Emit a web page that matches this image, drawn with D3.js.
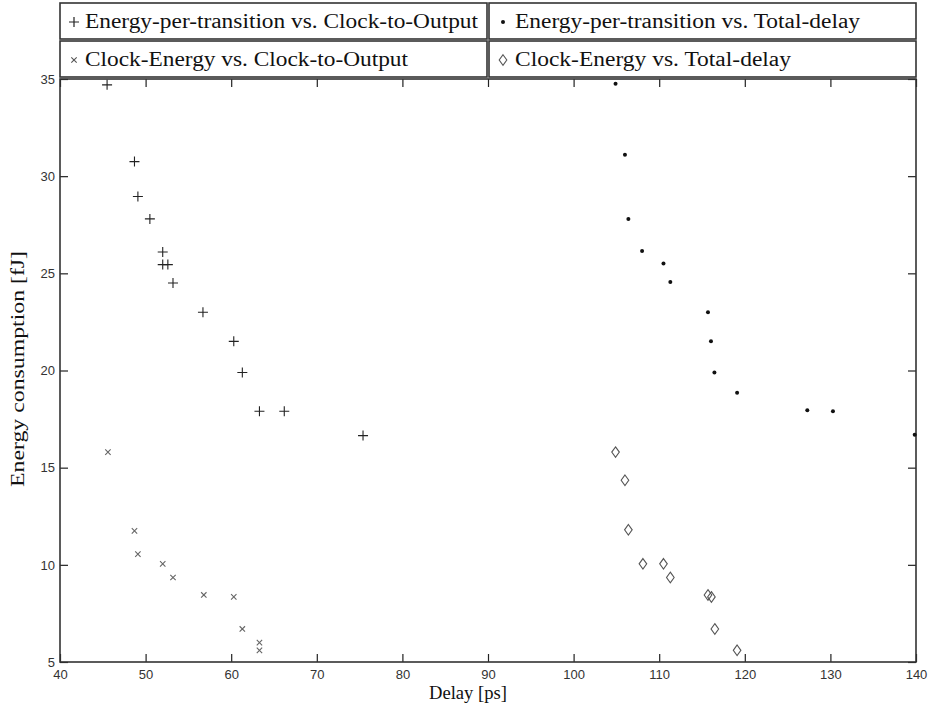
<!DOCTYPE html>
<html>
<head>
<meta charset="utf-8">
<script src="https://cdn.jsdelivr.net/npm/d3@7"></script>
<style>
  body { margin: 0; background: #fff; }
  .tick text { font-family: "Liberation Sans", Arial, sans-serif; font-size: 13px; fill: #333; }
  .legend text { font-family: "Liberation Serif", "Times New Roman", serif; font-size: 20px; fill: #111; }
  .label { font-family: "Liberation Serif", "Times New Roman", serif; font-size: 19px; fill: #111; }
</style>
</head>
<body>
<svg id="chart"></svg>
<script>
// data
const xTicks = [40, 50, 60, 70, 80, 90, 100, 110, 120, 130, 140];
const yTicks = [5, 10, 15, 20, 25, 30, 35];

const eptClkX = [45.5, 48.7, 49.1, 50.5, 52.0, 52.0, 52.6, 53.2, 56.7, 60.3, 61.3, 63.3, 66.2, 75.4];
const eptClkY = [34.7, 30.75, 28.95, 27.8, 26.1, 25.45, 25.45, 24.5, 23.0, 21.5, 19.9, 17.9, 17.9, 16.65];

const eptTotX = [104.9, 106.0, 106.4, 108.0, 110.5, 111.3, 115.7, 116.05, 116.45, 119.1, 127.3, 130.3, 139.85];
const eptTotY = [34.75, 31.1, 27.8, 26.15, 25.5, 24.55, 23.0, 21.5, 19.9, 18.85, 17.95, 17.9, 16.7];

const ceClkX = [45.6, 48.7, 49.1, 52.0, 53.2, 56.8, 60.3, 61.3, 63.3, 63.3];
const ceClkY = [15.8, 11.75, 10.55, 10.05, 9.35, 8.45, 8.35, 6.7, 6.0, 5.6];

const ceTotX = [104.9, 106.0, 106.4, 108.1, 110.5, 111.3, 115.7, 116.1, 116.5, 119.1];
const ceTotY = [15.8, 14.35, 11.8, 10.05, 10.05, 9.35, 8.45, 8.35, 6.7, 5.6];

const legendLabels = [
  'Energy-per-transition vs. Clock-to-Output',
  'Energy-per-transition vs. Total-delay',
  'Clock-Energy vs. Clock-to-Output',
  'Clock-Energy vs. Total-delay'
];

const drawGraph = () => {
  // dimensions
  const width = 930;
  const height = 706;
  const left = 60, right = 916, top = 79, bottom = 662;

  const svg = d3.select('#chart')
    .attr('width', width)
    .attr('height', height);

  const xScale = d3.scaleLinear().domain([40, 140]).range([left, right]);
  const yScale = d3.scaleLinear().domain([5, 35]).range([bottom, top]);

  // axes, ticks inside on all sides
  const tl = 8;
  svg.append('g')
    .attr('transform', `translate(0, ${bottom})`)
    .call(d3.axisBottom(xScale).tickValues(xTicks).tickSizeInner(-tl).tickSizeOuter(0).tickPadding(8))
    .call(g => g.select('.domain').remove());
  svg.append('g')
    .attr('transform', `translate(0, ${top})`)
    .call(d3.axisTop(xScale).tickValues(xTicks).tickSizeInner(-tl).tickSizeOuter(0).tickFormat(''))
    .call(g => g.select('.domain').remove());
  svg.append('g')
    .attr('transform', `translate(${left}, 0)`)
    .call(d3.axisLeft(yScale).tickValues(yTicks).tickSizeInner(-tl).tickSizeOuter(0).tickPadding(5))
    .call(g => g.select('.domain').remove());
  svg.append('g')
    .attr('transform', `translate(${right}, 0)`)
    .call(d3.axisRight(yScale).tickValues(yTicks).tickSizeInner(-tl).tickSizeOuter(0).tickFormat(''))
    .call(g => g.select('.domain').remove());
  svg.selectAll('.tick line').attr('stroke', '#222').attr('stroke-width', 1.2);

  // box
  svg.append('rect')
    .attr('x', left).attr('y', top)
    .attr('width', right - left).attr('height', bottom - top)
    .attr('fill', 'none').attr('stroke', '#333').attr('stroke-width', 1.6);

  // markers
  const drawPlus = (g, x, y, s, col, w) => {
    g.append('path')
      .attr('d', `M${x - s},${y}H${x + s}M${x},${y - s}V${y + s}`)
      .attr('stroke', col).attr('stroke-width', w).attr('fill', 'none');
  };
  const drawX = (g, x, y, s, col, w) => {
    g.append('path')
      .attr('d', `M${x - s},${y - s}L${x + s},${y + s}M${x - s},${y + s}L${x + s},${y - s}`)
      .attr('stroke', col).attr('stroke-width', w).attr('fill', 'none');
  };
  const drawDot = (g, x, y) => {
    g.append('circle').attr('cx', x).attr('cy', y).attr('r', 2).attr('fill', '#111');
  };
  const drawDiamond = (g, x, y) => {
    g.append('path')
      .attr('d', `M${x},${y - 5.3}L${x + 3.8},${y}L${x},${y + 5.3}L${x - 3.8},${y}Z`)
      .attr('stroke', '#555').attr('stroke-width', 1.1).attr('fill', 'none');
  };

  const marks = svg.append('g');
  eptClkX.forEach((d, i) => drawPlus(marks, xScale(d), yScale(eptClkY[i]), 5, '#222', 1.1));
  eptTotX.forEach((d, i) => drawDot(marks, xScale(d), yScale(eptTotY[i])));
  ceClkX.forEach((d, i) => drawX(marks, xScale(d), yScale(ceClkY[i]), 2.7, '#666', 1.1));
  ceTotX.forEach((d, i) => drawDiamond(marks, xScale(d), yScale(ceTotY[i])));

  // legend
  const legend = svg.append('g').attr('class', 'legend');
  const boxes = [
    [60, 3, 427, 36], [489, 3, 427, 36],
    [60, 41, 427, 36], [489, 41, 427, 36]
  ];
  const textLens = [393, 345, 323, 276];
  boxes.forEach((b, i) => {
    legend.append('rect')
      .attr('x', b[0]).attr('y', b[1]).attr('width', b[2]).attr('height', b[3])
      .attr('fill', '#fff').attr('stroke', '#333').attr('stroke-width', 1.6);
    const cy = b[1] + b[3] / 2;
    const mx = b[0] + 14;
    if (i === 0) drawPlus(legend, mx, cy + 1, 5, '#222', 1.2);
    if (i === 1) drawDot(legend, mx, cy + 1);
    if (i === 2) drawX(legend, mx, cy + 1, 2.7, '#555', 1.1);
    if (i === 3) drawDiamond(legend, mx, cy + 1);
    legend.append('text')
      .attr('x', b[0] + (i % 2 ? 26 : 25))
      .attr('y', cy + 7)
      .attr('textLength', textLens[i])
      .attr('lengthAdjust', 'spacingAndGlyphs')
      .text(legendLabels[i]);
  });

  // axis labels
  svg.append('text')
    .attr('class', 'label')
    .attr('x', 468)
    .attr('y', 699)
    .attr('text-anchor', 'middle')
    .attr('textLength', 78)
    .attr('lengthAdjust', 'spacingAndGlyphs')
    .text('Delay [ps]');
  svg.append('text')
    .attr('class', 'label')
    .attr('transform', 'rotate(-90)')
    .attr('x', -369)
    .attr('y', 24)
    .attr('text-anchor', 'middle')
    .attr('textLength', 236)
    .attr('lengthAdjust', 'spacingAndGlyphs')
    .text('Energy consumption [fJ]');
};

drawGraph();
</script>
</body>
</html>
